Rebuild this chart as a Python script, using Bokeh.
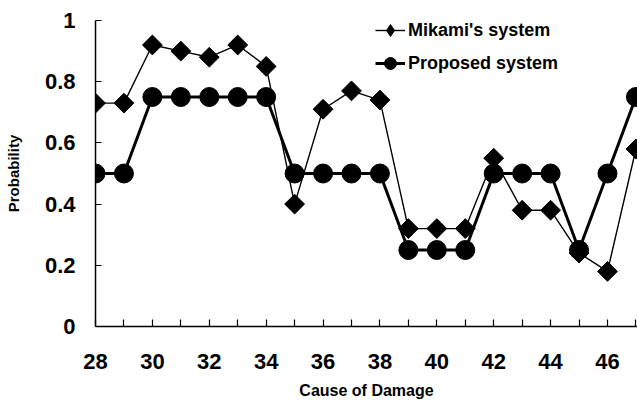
from bokeh.plotting import figure
from bokeh.models import FixedTicker, Legend, LegendItem, Range1d
from bokeh.embed import file_html
from bokeh.resources import INLINE
import math

# ---- data ----
cause = list(range(28, 48))
mikami = [0.73, 0.73, 0.92, 0.90, 0.88, 0.92, 0.85, 0.40, 0.71, 0.77,
          0.74, 0.32, 0.32, 0.32, 0.55, 0.38, 0.38, 0.24, 0.18, 0.58]
proposed = [0.50, 0.50, 0.75, 0.75, 0.75, 0.75, 0.75, 0.50, 0.50, 0.50,
            0.50, 0.25, 0.25, 0.25, 0.50, 0.50, 0.50, 0.25, 0.50, 0.75]
x_major_ticks = [28, 30, 32, 34, 36, 38, 40, 42, 44, 46]
x_minor_ticks = [29, 31, 33, 35, 37, 39, 41, 43, 45, 47]
y_ticks = [0, 0.2, 0.4, 0.6, 0.8, 1]
y_tick_labels = ["0", "0.2", "0.4", "0.6", "0.8", "1"]
series_names = ["Mikami's system", "Proposed system"]
x_title = "Cause of Damage"
y_title = "Probability"

FONT = "Liberation Sans"

p = figure(width=637, height=406, output_backend="svg", toolbar_location=None,
           x_range=Range1d(28, 47.055), y_range=Range1d(0, 1),
           min_border_left=95, min_border_right=0, min_border_top=20,
           min_border_bottom=80)
p.outline_line_color = None
p.grid.visible = False
p.background_fill_color = "white"
p.border_fill_color = "white"

# lines and markers
l1 = p.line(cause, mikami, line_color="black", line_width=1.4)
s1 = p.scatter(cause, mikami, marker="square", size=14, angle=math.pi / 4,
               fill_color="black", line_color="black")
# legend-only diamond symbol (a single undefined point, nothing is drawn)
d1 = p.scatter(x=[math.nan], y=[math.nan], marker="diamond", size=12,
               fill_color="black", line_color="black")
l2 = p.line(cause, proposed, line_color="black", line_width=3)
s2 = p.scatter(cause, proposed, marker="circle", size=19,
               fill_color="black", line_color="black")

# axes
xa = p.xaxis[0]
xa.ticker = FixedTicker(ticks=x_major_ticks, minor_ticks=x_minor_ticks)
xa.axis_label = x_title
xa.major_tick_in = 7
xa.major_tick_out = 0
xa.minor_tick_in = 7
xa.minor_tick_out = 0
xa.major_label_standoff = 27

ya = p.yaxis[0]
ya.ticker = FixedTicker(ticks=y_ticks)
ya.major_label_overrides = {t: lab for t, lab in zip(y_ticks, y_tick_labels)}
ya.axis_label = y_title
ya.major_tick_in = 6
ya.major_tick_out = 0
ya.minor_tick_in = 0
ya.minor_tick_out = 0
ya.major_label_standoff = 20

for ax in (xa, ya):
    ax.axis_line_color = "black"
    ax.axis_line_width = 1.5
    ax.major_tick_line_color = "black"
    ax.minor_tick_line_color = "black"
    ax.major_tick_line_width = 1.2
    ax.minor_tick_line_width = 1.2
    ax.major_label_text_font = FONT
    ax.major_label_text_font_style = "bold"
    ax.major_label_text_font_size = "22px"
    ax.major_label_text_color = "black"
    ax.axis_label_text_font = FONT
    ax.axis_label_text_font_style = "bold"
    ax.axis_label_text_color = "black"

xa.axis_label_text_font_size = "16px"
xa.axis_label_standoff = 10
ya.axis_label_text_font_size = "15px"
ya.axis_label_standoff = 20

legend = Legend(items=[LegendItem(label=series_names[0], renderers=[l1, d1]),
                       LegendItem(label=series_names[1], renderers=[l2, s2])],
                location=(280, 247), padding=0, spacing=1,
                glyph_width=30, glyph_height=32, label_height=32,
                label_standoff=3, border_line_color=None,
                background_fill_alpha=0,
                label_text_font=FONT, label_text_font_style="bold",
                label_text_font_size="18px", label_text_color="black")
p.add_layout(legend, "center")

open("out.html", "w").write(file_html(p, INLINE))
